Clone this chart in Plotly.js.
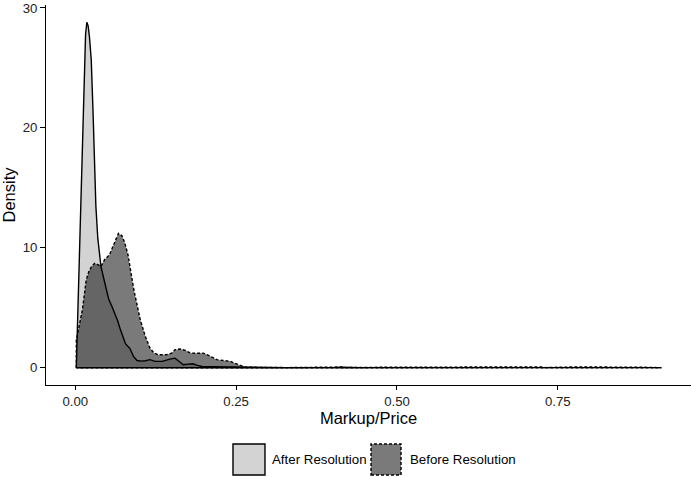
<!DOCTYPE html>
<html>
<head>
<meta charset="utf-8">
<script src="https://cdn.plot.ly/plotly-3.0.1.min.js"></script>
<style>html,body{margin:0;padding:0;background:#fff;}#chart{width:691px;height:477px;}</style>
</head>
<body>
<div id="chart"></div>
<script>
// Series names
const seriesNames = ["After Resolution", "Before Resolution"];

// After Resolution density curve
const afterX = [0.0016,0.005,0.009,0.013,0.016,0.018,0.020,0.022,0.0248,0.0275,0.0295,0.032,0.035,0.0377,0.040,0.044,0.048,0.052,0.057,0.062,0.066,0.070,0.074,0.078,0.085,0.0905,0.096,0.103,0.109,0.116,0.124,0.135,0.147,0.155,0.162,0.168,0.175,0.183,0.190,0.197,0.21,0.23,0.25,0.28,0.32,0.40,0.416,0.44,0.50,0.533,0.55,0.70,0.725,0.75,0.769,0.80,0.877,0.911];
const afterY = [0,7,15,23,27.8,28.8,28.5,27.6,25.7,21.5,18.2,13.5,10.8,9.2,8.4,7.5,6.6,5.7,5.1,4.5,3.9,3.2,2.6,2.0,1.6,0.95,0.6,0.55,0.58,0.67,0.53,0.53,0.72,0.8,0.5,0.25,0.3,0.33,0.2,0.1,0.08,0.06,0.04,0.02,0.01,0.01,0.04,0.01,0.01,0.03,0.01,0.01,0.03,0.01,0.03,0.01,0.02,0.01];

// Before Resolution density curve
const beforeX = [0.0016,0.005,0.008,0.011,0.017,0.021,0.025,0.028,0.030,0.035,0.040,0.0455,0.053,0.060,0.0672,0.0724,0.077,0.082,0.087,0.091,0.095,0.101,0.109,0.116,0.122,0.129,0.142,0.150,0.155,0.163,0.171,0.179,0.189,0.199,0.21,0.22,0.23,0.241,0.254,0.264,0.282,0.30,0.33,0.416,0.42,0.497,0.533,0.54,0.696,0.725,0.73,0.769,0.877,0.911];
const beforeY = [2.3,3.2,4.0,4.8,7.3,8.0,8.4,8.6,8.7,8.6,8.45,9.0,9.4,10.3,11.2,11.0,10.4,9.4,7.75,6.5,5.5,4.0,2.6,1.64,1.25,1.08,1.08,1.22,1.5,1.56,1.45,1.22,1.2,1.22,0.95,0.67,0.6,0.53,0.25,0.06,0.03,0.02,0.01,0.06,0.01,0.05,0.06,0.01,0.05,0.06,0.01,0.06,0.05,0.01];

// Axis ticks
const xTicks = [0, 0.25, 0.5, 0.75];
const xTickText = ["0.00", "0.25", "0.50", "0.75"];
const yTicks = [0, 10, 20, 30];

function closed(xs, ys) {
  const x0 = xs[0], x1 = xs[xs.length - 1];
  return {
    x: [x0].concat(xs, [x1, x0]),
    y: [0].concat(ys, [0, 0])
  };
}
const a = closed(afterX, afterY);
const b = closed(beforeX, beforeY);

const traces = [
  {x: a.x, y: a.y, type: 'scatter', mode: 'lines', fill: 'toself', name: seriesNames[0],
   fillcolor: '#d3d3d3', line: {color: '#000', width: 1.4}, showlegend: false, hoverinfo: 'skip'},
  {x: b.x, y: b.y, type: 'scatter', mode: 'lines', fill: 'toself', name: seriesNames[1],
   fillcolor: 'rgba(0,0,0,0.52)', line: {color: '#000', width: 1.4, dash: '3px,2px'}, showlegend: false, hoverinfo: 'skip'}
];

const font = {family: 'Liberation Sans, Arial, sans-serif', color: '#000'};

const layout = {
  width: 691, height: 477,
  margin: {l: 46, r: 0, t: 5, b: 92},
  paper_bgcolor: '#fff', plot_bgcolor: '#fff',
  font: font,
  showlegend: false,
  xaxis: {
    range: [-0.0455, 0.957], tickvals: xTicks, ticktext: xTickText,
    showgrid: false, zeroline: false, showline: true, linecolor: '#000', linewidth: 1,
    ticks: 'outside', ticklen: 4, tickcolor: '#000', tickwidth: 1,
    tickfont: {size: 13.2, color: '#222', family: font.family},
    title: {text: 'Markup/Price', font: {size: 16.5, color: '#000', family: font.family}, standoff: 4}
  },
  yaxis: {
    range: [-1.44, 30.24], tickvals: yTicks,
    showgrid: false, zeroline: false, showline: true, linecolor: '#000', linewidth: 1,
    ticks: 'outside', ticklen: 5, tickcolor: '#000', tickwidth: 1,
    tickfont: {size: 13.2, color: '#222', family: font.family},
    title: {text: 'Density', font: {size: 16.5, color: '#000', family: font.family}, standoff: 3}
  },
  shapes: [
    {type: 'rect', xref: 'paper', yref: 'paper', x0: 0.2899, x1: 0.3395, y0: -0.2368, y1: -0.1553,
     fillcolor: '#d3d3d3', line: {color: '#000', width: 1.4}},
    {type: 'rect', xref: 'paper', yref: 'paper', x0: 0.5039, x1: 0.5504, y0: -0.2368, y1: -0.1553,
     fillcolor: 'rgba(0,0,0,0.52)', line: {color: '#000', width: 1.4, dash: '3px,2px'}}
  ],
  annotations: [
    {text: seriesNames[0], xref: 'paper', yref: 'paper', x: 0.3473, y: -0.196, xanchor: 'left', yanchor: 'middle',
     showarrow: false, font: {size: 13.3, color: '#000', family: font.family}},
    {text: seriesNames[1], xref: 'paper', yref: 'paper', x: 0.5612, y: -0.196, xanchor: 'left', yanchor: 'middle',
     showarrow: false, font: {size: 13.3, color: '#000', family: font.family}}
  ]
};

Plotly.newPlot('chart', traces, layout, {staticPlot: true, displayModeBar: false});
</script>
</body>
</html>
